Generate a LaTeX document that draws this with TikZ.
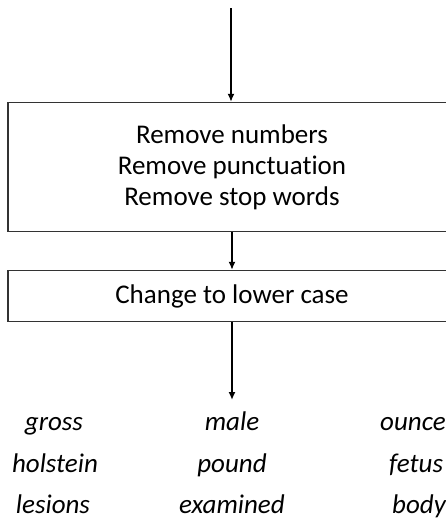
\documentclass[tikz,border=0pt]{standalone}
\usepackage{fontspec}
\setmainfont[Ligatures=NoCommon]{Carlito}
\usetikzlibrary{arrows.meta,positioning}

\begin{document}
\begin{tikzpicture}[>={Latex[length=8pt,width=7pt]}, x=1pt, y=-1pt, line width=1.8pt]
\tikzset{stepbox/.style={draw=black!80, line width=1.3pt, minimum width=448pt, align=center, font=\fontsize{27}{31}\selectfont},
  word/.style={anchor=base, font=\fontsize{27}{31}\selectfont\itshape}}
\useasboundingbox (0,0) rectangle (446,520);

\coordinate (in) at (231,8);
\node[stepbox, minimum height=129pt] (clean) at (232,167) {Remove numbers\\Remove punctuation\\Remove stop words};
\node[stepbox, minimum height=51pt] (lower) at (232,296) {Change to lower case};
\coordinate (out) at (232,400);

\draw[->] (in) -- (in|-clean.north);
\draw[->] (clean) -- (lower);
\draw[->] (lower) -- (out);

\node[word] (w11) at (54,430) {gross};
\node[word] (w12) at (232,430) {male};
\node[word] (w13) at (413,430) {ounce};
\node[word] (w21) at (55,472) {holstein};
\node[word] (w22) at (232,472) {pound};
\node[word] (w23) at (416,472) {fetus};
\node[word] (w31) at (53,513) {lesions};
\node[word] (w32) at (232,513) {examined};
\node[word] (w33) at (419,513) {body};

\end{tikzpicture}
\end{document}
